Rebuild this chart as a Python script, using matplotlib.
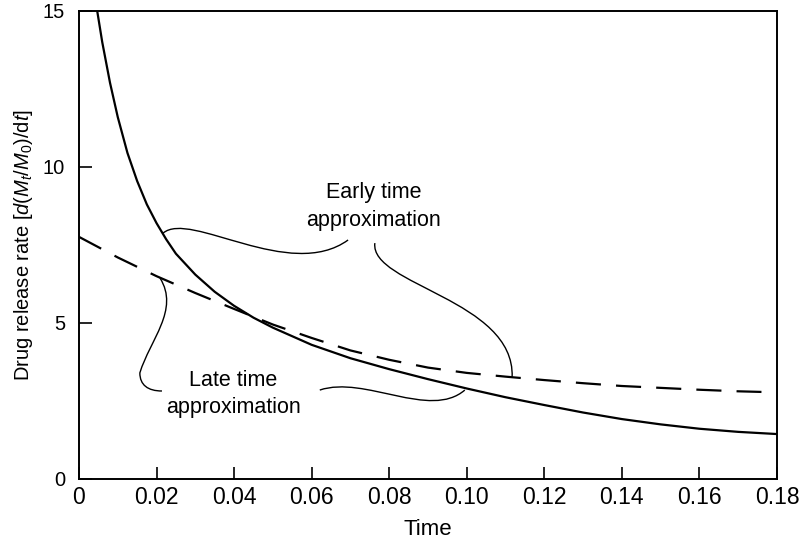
import matplotlib
matplotlib.use('Agg')
import matplotlib.pyplot as plt
from matplotlib import font_manager
from matplotlib.path import Path
from matplotlib.patches import PathPatch

plt.rcParams['font.family'] = ['Liberation Sans', 'DejaVu Sans']
plt.rcParams['mathtext.fontset'] = 'custom'
plt.rcParams['mathtext.rm'] = 'Liberation Sans'
plt.rcParams['mathtext.it'] = 'Liberation Sans:italic'

# narrow face for the x axis, if it is there
names = {f.name for f in font_manager.fontManager.ttflist}
narrow = ['Liberation Sans Narrow'] if 'Liberation Sans Narrow' in names else ['Liberation Sans']
print('narrow font:', narrow)

# --- data ---
solid_t = [0.0047, 0.006, 0.008, 0.010, 0.0125, 0.015, 0.0175, 0.020, 0.0225,
           0.025, 0.030, 0.035, 0.040, 0.045, 0.050, 0.060, 0.070, 0.080,
           0.090, 0.100, 0.110, 0.120, 0.130, 0.140, 0.150, 0.160, 0.170, 0.180]
solid_rate = [15.0, 14.0, 12.7, 11.6, 10.45, 9.55, 8.8, 8.2, 7.68,
              7.22, 6.55, 6.0, 5.55, 5.17, 4.85, 4.30, 3.87, 3.52,
              3.20, 2.90, 2.62, 2.37, 2.13, 1.92, 1.75, 1.61, 1.51, 1.44]

dashed_t = [0.0, 0.010, 0.020, 0.030, 0.040, 0.050, 0.060, 0.070, 0.080,
            0.090, 0.100, 0.110, 0.120, 0.130, 0.140, 0.150, 0.160, 0.170, 0.176]
dashed_rate = [7.76, 7.10, 6.50, 5.96, 5.45, 4.95, 4.52, 4.12, 3.82,
               3.57, 3.40, 3.28, 3.17, 3.07, 2.98, 2.92, 2.86, 2.81, 2.79]

x_ticks = [0, 0.02, 0.04, 0.06, 0.08, 0.10, 0.12, 0.14, 0.16, 0.18]
x_tick_labels = ['0', '0.02', '0.04', '0.06', '0.08', '0.10', '0.12', '0.14', '0.16', '0.18']
y_ticks = [0, 5, 10, 15]

# callout braces (cubic bezier control points, data units)
early_left = [(0.0217, 7.88), (0.0286, 8.62), (0.0544, 6.31), (0.0694, 7.66)]
early_right = [(0.0763, 7.56), (0.0750, 6.22), (0.1124, 5.74), (0.1117, 3.27)]
late_upper = [(0.0209, 6.44), (0.0260, 5.42), (0.0183, 4.46), (0.0157, 3.40),
              (0.0157, 3.01), (0.0178, 2.82), (0.0214, 2.82)]
late_lower = [(0.0621, 2.85), (0.0737, 3.33), (0.0905, 1.89), (0.0995, 2.85)]

early_label = (0.0759, 8.73)
late_label = (0.0398, 2.72)


def add_brace(ax, pts):
    codes = [Path.MOVETO] + [Path.CURVE4] * (len(pts) - 1)
    ax.add_patch(PathPatch(Path(pts, codes), fill=False, lw=1.0, color='black'))


fig = plt.figure(figsize=(8.01, 5.40), dpi=100)
ax = fig.add_axes([0.0986, 0.113, 0.8714, 0.8667])

ax.plot(solid_t, solid_rate, color='black', lw=1.6, solid_joinstyle='round')
ax.plot(dashed_t, dashed_rate, color='black', lw=1.6, dashes=(11.3, 6.8))

for b in [early_left, early_right, late_upper, late_lower]:
    add_brace(ax, b)

ax.text(early_label[0], early_label[1], 'Early time\napproximation',
        ha='center', va='center', fontsize=15.5, linespacing=1.45)
ax.text(late_label[0], late_label[1], 'Late time\napproximation',
        ha='center', va='center', fontsize=15.5, linespacing=1.4)

ax.set_xlim(0, 0.18)
ax.set_ylim(0, 15)
ax.set_xticks(x_ticks)
ax.set_xticklabels(x_tick_labels, family=narrow)
ax.set_yticks(y_ticks)
ax.tick_params(axis='x', direction='in', length=9, width=1.2, labelsize=16.5, pad=5)
ax.tick_params(axis='y', direction='in', length=9, width=1.2, labelsize=14.5, pad=10)
for s in ax.spines.values():
    s.set_linewidth(1.4)

ax.set_xlabel('Time', fontsize=16, family=narrow, labelpad=7)
ax.set_ylabel(r'Drug release rate [$d(M_t/M_0)/\mathrm{d}t$]', fontsize=14.5, labelpad=6)

plt.savefig('out.png', dpi=100)
plt.close()
